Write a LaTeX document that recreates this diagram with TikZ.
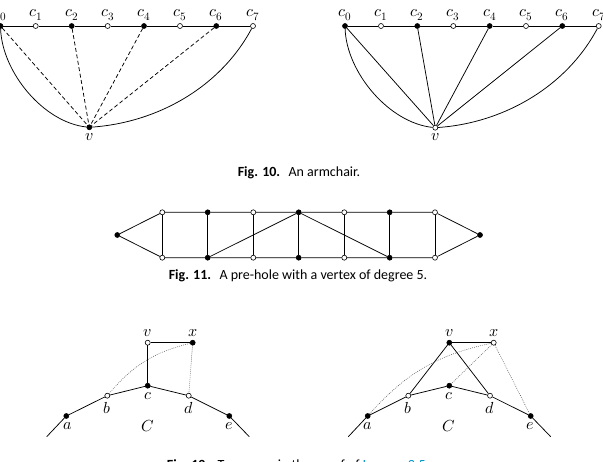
\documentclass[tikz,border=0pt]{standalone}
\usepackage{fontspec}
\setmainfont{Carlito}
\usepackage{unicode-math}
\setmathfont{Latin Modern Math}
\usetikzlibrary{calc}
\begin{document}
\begin{tikzpicture}[x=1pt,y=-1pt,
  vb/.style={circle,draw,fill=black,inner sep=0pt,minimum size=5pt,line width=0.6pt},
  vw/.style={circle,draw,fill=white,inner sep=0pt,minimum size=5pt,line width=0.6pt},
  ln/.style={line width=0.75pt},
  dashten/.style={line width=0.75pt,dash pattern=on 4pt off 2.5pt},
  dottw/.style={line width=0.5pt,draw=black!70,dash pattern=on 0.8pt off 1.2pt},
  lab/.style={inner sep=0pt,anchor=base,font=\fontsize{16}{18}\selectfont},
  figcap/.style={inner sep=0pt,anchor=base,font=\fontsize{14}{16}\selectfont}]
\useasboundingbox (0,0) rectangle (603,462);

% ---------- Fig 10 left ----------
\node[vb] (Lc0) at (0.5,26) {};
\node[vw] (Lc1) at (35.7,26) {};
\node[vb] (Lc2) at (71.7,26) {};
\node[vw] (Lc3) at (107.7,26) {};
\node[vb] (Lc4) at (144,26) {};
\node[vw] (Lc5) at (180,26) {};
\node[vb] (Lc6) at (216.3,26) {};
\node[vw] (Lc7) at (253,26) {};
\node[vb] (Lv) at (89.3,127.3) {};
\foreach \i in {0,...,7} {\node[lab] (Llc\i) at ($(Lc\i)+(0,-9.3)$) {$c_{\i}$};}
\node[lab] (Llv) at (89.3,140.7) {$v$};
\draw[ln] (Lc0) -- (Lc1) -- (Lc2) -- (Lc3) -- (Lc4) -- (Lc5) -- (Lc6) -- (Lc7);
\foreach \i in {0,2,4,6} {\draw[dashten] (Lc\i) -- (Lv);}
\draw[ln] (Lc0) to[out=-88,in=174,looseness=0.85] (Lv);
\draw[ln] (Lv) to[out=4,in=-118,looseness=0.9] (Lc7);

% ---------- Fig 10 right ----------
\node[vb] (Rc0) at (345,26) {};
\node[vw] (Rc1) at (381,26) {};
\node[vb] (Rc2) at (417.3,26) {};
\node[vw] (Rc3) at (453.3,26) {};
\node[vb] (Rc4) at (489.7,26) {};
\node[vw] (Rc5) at (526,26) {};
\node[vb] (Rc6) at (562.3,26) {};
\node[vw] (Rc7) at (598.7,26) {};
\node[vw] (Rv) at (435.3,127.7) {};
\foreach \i in {0,...,7} {\node[lab] (Rlc\i) at ($(Rc\i)+(0,-9.3)$) {$c_{\i}$};}
\node[lab] (Rlv) at (435.3,141) {$v$};
\draw[ln] (Rc0) -- (Rc1) -- (Rc2) -- (Rc3) -- (Rc4) -- (Rc5) -- (Rc6) -- (Rc7);
\foreach \i in {0,2,4,6} {\draw[ln] (Rc\i) -- (Rv);}
\draw[ln] (Rc0) to[out=-88,in=174,looseness=0.85] (Rv);
\draw[ln] (Rv) to[out=4,in=-118,looseness=0.9] (Rc7);

\node[figcap] (cap10) at (299,177) {\textbf{Fig. 10.}\hspace{0.6em}An armchair.};

% ---------- Fig 11 ----------
\node[vb] (P0) at (117.3,235) {};
\node[vb] (P8) at (480,235) {};
\foreach \x/\n/\s in {162.3/1/vw,207.7/2/vb,253.3/3/vw,298.7/4/vb,344.3/5/vw,389.7/6/vb,435/7/vw} {
  \node[\s] (T\n) at (\x,212.3) {};
  \node[\s] (B\n) at (\x,257.7) {};
}
\draw[ln] (P0) -- (T1) -- (T2) -- (T3) -- (T4) -- (T5) -- (T6) -- (T7) -- (P8);
\draw[ln] (P0) -- (B1) -- (B2) -- (B3) -- (B4) -- (B5) -- (B6) -- (B7) -- (P8);
\foreach \n in {1,...,7} {\draw[ln] (T\n) -- (B\n);}
\draw[ln] (B2) -- (T4);
\draw[ln] (T4) -- (B6);

\node[figcap] (cap11) at (298,280) {\textbf{Fig. 11.}\hspace{0.6em}A pre-hole with a vertex of degree 5.};

% ---------- Fig 12 left ----------
\coordinate (La0) at (46.7,436.7);
\coordinate (Le0) at (249.3,436.7);
\node[vw] (Lv2) at (147.7,342.7) {};
\node[vb] (Lx) at (192.7,342.7) {};
\node[vb] (Lc) at (147.7,385.7) {};
\node[vw] (Lb) at (107.3,395.7) {};
\node[vw] (Ld) at (188.7,395.7) {};
\node[vb] (La) at (66.3,416) {};
\node[vb] (Le) at (229.3,416) {};
\draw[ln] (La0) -- (La) -- (Lb) -- (Lc) -- (Ld) -- (Le) -- (Le0);
\draw[ln] (Lv2) -- (Lx);
\draw[ln] (Lv2) -- (Lc);
\draw[dottw] (Lb) to[bend left=18] (Lx);
\draw[dottw] (Lx) -- (Ld);
\node[lab] (Llv2) at (147.7,336.7) {$v$};
\node[lab] (Llx) at (192.7,336.7) {$x$};
\node[lab] (Llc) at (147.7,399.3) {$c$};
\node[lab] (Llb) at (107.3,413.3) {$b$};
\node[lab] (Lld) at (188.7,413.3) {$d$};
\node[lab] (Lla) at (67.5,430) {$a$};
\node[lab] (Lle) at (229.3,430) {$e$};
\node[lab] (LlC) at (147.7,431.7) {$C$};

% ---------- Fig 12 right ----------
\coordinate (Ra0) at (348.3,436.7);
\coordinate (Re0) at (550.7,436.7);
\node[vb] (Rv2) at (449.3,342.7) {};
\node[vw] (Rx) at (493.7,342.7) {};
\node[vb] (Rc) at (449.3,385.7) {};
\node[vw] (Rb) at (408.3,395.7) {};
\node[vw] (Rd) at (490,395.7) {};
\node[vb] (Ra) at (367.7,416) {};
\node[vb] (Re) at (530.7,416) {};
\draw[ln] (Ra0) -- (Ra) -- (Rb) -- (Rc) -- (Rd) -- (Re) -- (Re0);
\draw[ln] (Rv2) -- (Rx);
\draw[ln] (Rv2) -- (Rb);
\draw[ln] (Rv2) -- (Rd);
\draw[dottw] (Ra) to[bend left=18] (Rx);
\draw[dottw] (Rx) -- (Rc);
\draw[dottw] (Rx) -- (Re);
\node[lab] (Rlv2) at (449.3,336.7) {$v$};
\node[lab] (Rlx) at (493.7,336.7) {$x$};
\node[lab] (Rlc) at (449.3,399.3) {$c$};
\node[lab] (Rlb) at (408.3,413.3) {$b$};
\node[lab] (Rld) at (490,413.3) {$d$};
\node[lab] (Rla) at (367.7,430) {$a$};
\node[lab] (Rle) at (530.7,430) {$e$};
\node[lab] (RlC) at (449.3,431.7) {$C$};

\node[figcap] (cap12) at (298,469) {\textbf{Fig. 12.}\hspace{0.6em}Two cases in the proof of \textcolor[RGB]{0,150,200}{Lemma 3.5}.};
\end{tikzpicture}
\end{document}
